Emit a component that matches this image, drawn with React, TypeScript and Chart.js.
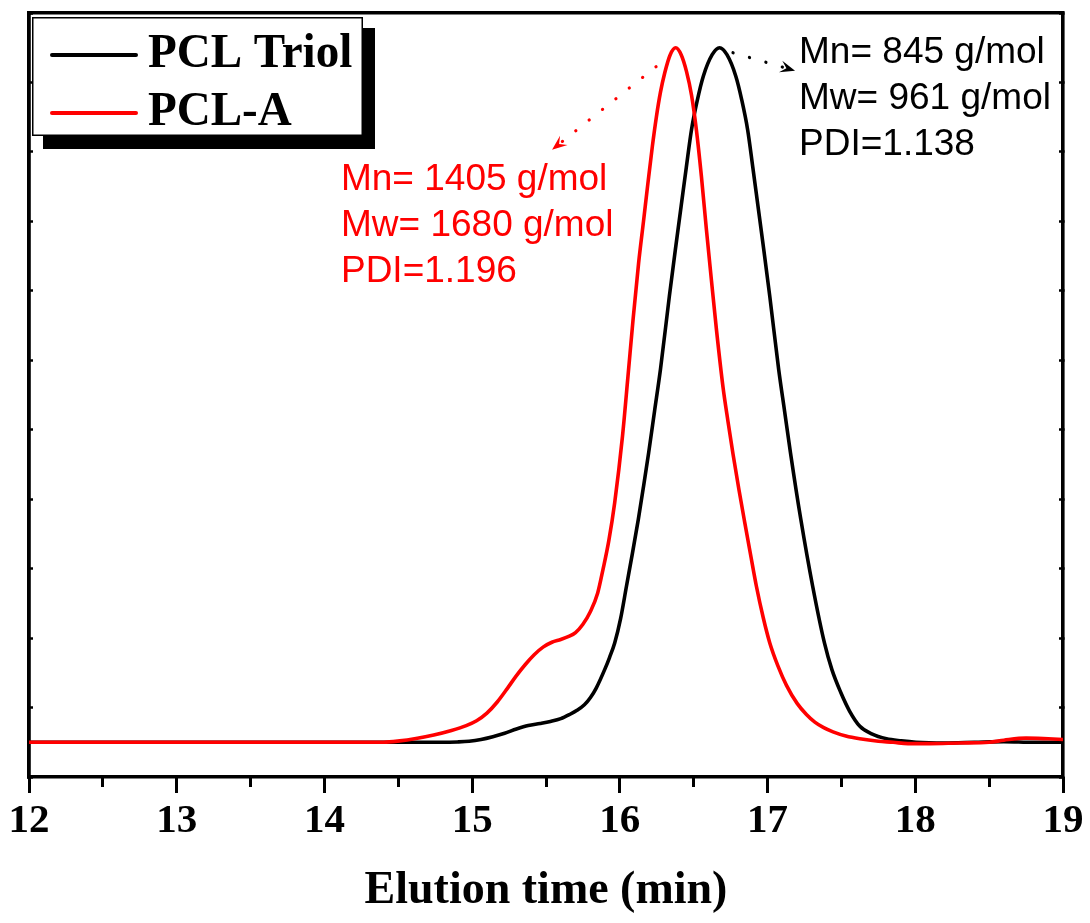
import React, { useEffect, useRef } from "react";
import { Chart, registerables } from "chart.js";

Chart.register(...registerables);

// ---- Data ----
const triolTime = [12.0, 13.0, 14.0, 14.6, 14.8, 14.9, 14.98, 15.06, 15.14, 15.22, 15.3, 15.38, 15.46, 15.53, 15.6, 15.66, 15.71, 15.76, 15.8, 15.84, 15.9, 15.93, 15.965, 16.005, 16.045, 16.085, 16.125, 16.16, 16.195, 16.235, 16.275, 16.335, 16.375, 16.415, 16.45, 16.485, 16.525, 16.565, 16.625, 16.675, 16.725, 16.785, 16.825, 16.865, 16.9, 16.935, 16.975, 17.015, 17.075, 17.115, 17.155, 17.225, 17.305, 17.385, 17.435, 17.495, 17.555, 17.625, 17.705, 17.805, 17.905, 18.005, 18.2, 18.4, 18.6, 18.8, 19.0];
const triolSignal = [0, 0, 0, 0, 0, 0.005, 0.015, 0.04, 0.08, 0.13, 0.19, 0.24, 0.27, 0.3, 0.34, 0.4, 0.46, 0.54, 0.64, 0.78, 1.06, 1.22, 1.43, 1.78, 2.25, 2.72, 3.21, 3.68, 4.17, 4.77, 5.37, 6.42, 7.08, 7.72, 8.28, 8.82, 9.25, 9.59, 9.9, 10.0, 9.9, 9.59, 9.25, 8.82, 8.28, 7.72, 7.08, 6.42, 5.37, 4.77, 4.17, 3.21, 2.25, 1.43, 1.05, 0.72, 0.45, 0.23, 0.12, 0.05, 0.02, 0.0, -0.01, 0.0, 0.01, 0.0, 0.0];

const pclaTime = [12.0, 13.0, 14.0, 14.4, 14.51, 14.62, 14.74, 14.86, 14.96, 15.03, 15.1, 15.17, 15.24, 15.3, 15.36, 15.42, 15.48, 15.54, 15.6, 15.65, 15.7, 15.75, 15.8, 15.85, 15.886, 15.925, 15.965, 16.018, 16.055, 16.09, 16.127, 16.16, 16.19, 16.22, 16.247, 16.275, 16.304, 16.341, 16.378, 16.415, 16.451, 16.485, 16.518, 16.552, 16.586, 16.62, 16.654, 16.698, 16.732, 16.766, 16.806, 16.845, 16.885, 16.924, 16.97, 17.015, 17.07, 17.128, 17.2, 17.263, 17.32, 17.38, 17.443, 17.53, 17.624, 17.75, 17.85, 17.95, 18.1, 18.3, 18.5, 18.6, 18.75, 18.9, 19.0];
const pclaSignal = [0, 0, 0, 0, 0.02, 0.055, 0.105, 0.17, 0.24, 0.31, 0.42, 0.58, 0.78, 0.96, 1.12, 1.26, 1.37, 1.44, 1.48, 1.52, 1.58, 1.7, 1.88, 2.15, 2.49, 2.9, 3.45, 4.41, 5.27, 6.1, 6.9, 7.5, 8.05, 8.58, 9.0, 9.36, 9.64, 9.9, 10.0, 9.9, 9.66, 9.32, 8.82, 8.15, 7.38, 6.65, 5.94, 5.12, 4.62, 4.15, 3.64, 3.17, 2.7, 2.25, 1.8, 1.43, 1.1, 0.82, 0.56, 0.4, 0.29, 0.21, 0.15, 0.09, 0.05, 0.015, 0.0, -0.02, -0.02, -0.01, 0.0, 0.03, 0.06, 0.05, 0.04];

const seriesLabels = ["PCL Triol", "PCL-A"];
const seriesColors = ["#000000", "#ff0000"];

const triolStats = ["Mn= 845 g/mol", "Mw= 961 g/mol", "PDI=1.138"];
const pclaStats = ["Mn= 1405 g/mol", "Mw= 1680 g/mol", "PDI=1.196"];

const xTitle = "Elution time (min)";
const xMin = 12;
const xMax = 19;
const yMin = -0.5;
const yMax = 10.5;

// annotation anchors in data coordinates
const annotationBlocks = [
  { lines: triolStats, color: "#000000", x: 17.213, y: 9.784 },
  { lines: pclaStats, color: "#ff0000", x: 14.112, y: 7.957 },
];
const annotationArrows = [
  { from: [16.766, 9.928], to: [17.186, 9.669], color: "#000000" },
  { from: [16.245, 9.727], to: [15.541, 8.532], color: "#ff0000" },
];

const SERIF = '"Times New Roman", "Liberation Serif", serif';
const SANS = 'Arial, "Liberation Sans", sans-serif';

function drawArrow(ctx: CanvasRenderingContext2D, x1: number, y1: number, x2: number, y2: number, color: string) {
  const ang = Math.atan2(y2 - y1, x2 - x1);
  const c = Math.cos(ang);
  const s = Math.sin(ang);
  const len = 15;
  const hw = 6;
  ctx.save();
  ctx.strokeStyle = color;
  ctx.lineWidth = 3.2;
  ctx.lineCap = "round";
  ctx.setLineDash([0.1, 17]);
  ctx.beginPath();
  ctx.moveTo(x1, y1);
  ctx.lineTo(x2 - c * len * 0.7, y2 - s * len * 0.7);
  ctx.stroke();
  ctx.setLineDash([]);
  ctx.fillStyle = color;
  ctx.beginPath();
  ctx.moveTo(x2, y2);
  ctx.lineTo(x2 - len * c + hw * s, y2 - len * s - hw * c);
  ctx.lineTo(x2 - 0.6 * len * c, y2 - 0.6 * len * s);
  ctx.lineTo(x2 - len * c - hw * s, y2 - len * s + hw * c);
  ctx.closePath();
  ctx.fill();
  ctx.restore();
}

const annotationPlugin = {
  id: "gpcAnnotations",
  afterDatasetsDraw(chart: any) {
    const ctx = chart.ctx as CanvasRenderingContext2D;
    const xs = chart.scales.x;
    const ys = chart.scales.y;
    ctx.save();
    ctx.font = `37px ${SANS}`;
    ctx.textBaseline = "alphabetic";
    ctx.textAlign = "left";
    for (const b of annotationBlocks) {
      const px = xs.getPixelForValue(b.x);
      const py = ys.getPixelForValue(b.y);
      ctx.fillStyle = b.color;
      b.lines.forEach((t, i) => ctx.fillText(t, px, py + i * 46.3));
    }
    for (const a of annotationArrows) {
      drawArrow(
        ctx,
        xs.getPixelForValue(a.from[0]),
        ys.getPixelForValue(a.from[1]),
        xs.getPixelForValue(a.to[0]),
        ys.getPixelForValue(a.to[1]),
        a.color
      );
    }
    ctx.restore();
  },
};

const boxLegendPlugin = {
  id: "boxLegend",
  afterDraw(chart: any) {
    const ctx = chart.ctx as CanvasRenderingContext2D;
    const left = chart.chartArea.left + 3;
    const top = chart.chartArea.top + 4;
    const w = 331;
    const h = 119;
    ctx.save();
    ctx.fillStyle = "#000";
    ctx.fillRect(left + 11, top + 11, w + 1, h + 2);
    ctx.fillStyle = "#fff";
    ctx.fillRect(left, top, w, h);
    ctx.strokeStyle = "#000";
    ctx.lineWidth = 1.5;
    ctx.strokeRect(left + 0.75, top + 0.75, w - 1.5, h - 1.5);
    chart.data.datasets.forEach((ds: any, i: number) => {
      const y = top + 38 + i * 58;
      ctx.strokeStyle = ds.borderColor;
      ctx.lineWidth = 4;
      ctx.lineCap = "round";
      ctx.beginPath();
      ctx.moveTo(left + 20, y);
      ctx.lineTo(left + 104, y);
      ctx.stroke();
      ctx.fillStyle = "#000";
      ctx.font = `bold 48px ${SERIF}`;
      ctx.textBaseline = "alphabetic";
      ctx.textAlign = "left";
      ctx.save();
      ctx.translate(left + 116, y + 12);
      ctx.scale(0.98, 1);
      ctx.fillText(ds.label, 0, 0);
      ctx.restore();
    });
    ctx.restore();
  },
};

export default function App() {
  const canvasRef = useRef<HTMLCanvasElement | null>(null);

  useEffect(() => {
    if (!canvasRef.current) return;
    const chart = new Chart(canvasRef.current, {
      type: "line",
      data: {
        datasets: [
          {
            label: seriesLabels[0],
            data: triolTime.map((t, i) => ({ x: t, y: triolSignal[i] })),
            borderColor: seriesColors[0],
            backgroundColor: seriesColors[0],
            borderWidth: 3.6,
            pointRadius: 0,
            cubicInterpolationMode: "monotone",
            fill: false,
            order: 2,
          },
          {
            label: seriesLabels[1],
            data: pclaTime.map((t, i) => ({ x: t, y: pclaSignal[i] })),
            borderColor: seriesColors[1],
            backgroundColor: seriesColors[1],
            borderWidth: 3.6,
            pointRadius: 0,
            cubicInterpolationMode: "monotone",
            fill: false,
            order: 1,
          },
        ],
      },
      options: {
        animation: false,
        responsive: false,
        devicePixelRatio: 1,
        layout: { padding: { left: 0, right: 27, top: 13, bottom: 0 } },
        plugins: {
          legend: { display: false },
          tooltip: { enabled: false },
          title: { display: false },
        },
        scales: {
          xMinor: {
            type: "linear",
            position: "bottom",
            weight: 0,
            min: xMin,
            max: xMax,
            ticks: { display: false, stepSize: 0.5 },
            grid: { display: true, drawOnChartArea: false, drawTicks: true, tickLength: 10, tickWidth: 3, tickColor: "#000", color: "#000" },
            border: { display: false },
            afterFit: (s: any) => { s.height = 0; },
          },
          x: {
            type: "linear",
            position: "bottom",
            weight: 1,
            min: xMin,
            max: xMax,
            ticks: {
              stepSize: 1,
              color: "#000",
              padding: 4,
              font: { family: SERIF, size: 41, weight: "bold" },
              maxRotation: 0,
            },
            grid: { display: true, drawOnChartArea: false, drawTicks: true, tickLength: 16, tickWidth: 3, tickColor: "#000", color: "#000" },
            border: { display: true, color: "#000", width: 3.6 },
            title: {
              display: true,
              text: xTitle,
              color: "#000",
              font: { family: SERIF, size: 46, weight: "bold" },
              padding: { top: 0, bottom: 4 },
            },
            afterFit: (s: any) => { s.height = 146; },
          },
          xTop: {
            type: "linear",
            position: "top",
            min: xMin,
            max: xMax,
            ticks: { display: false },
            grid: { display: false },
            border: { display: true, color: "#000", width: 3.4 },
            afterFit: (s: any) => { s.height = 0; },
          },
          y: {
            type: "linear",
            position: "left",
            min: yMin,
            max: yMax,
            ticks: { display: false, stepSize: 1, includeBounds: false },
            grid: { display: true, drawOnChartArea: false, drawTicks: true, tickLength: -4, tickWidth: 2.5, tickColor: "#000", color: "#000" },
            border: { display: true, color: "#000", width: 3.8 },
            afterFit: (s: any) => { s.width = 29; },
          },
          yRight: {
            type: "linear",
            position: "right",
            min: yMin,
            max: yMax,
            ticks: { display: false, stepSize: 1, includeBounds: false },
            grid: { display: true, drawOnChartArea: false, drawTicks: true, tickLength: -4, tickWidth: 2.5, tickColor: "#000", color: "#000" },
            border: { display: true, color: "#000", width: 3.6 },
            afterFit: (s: any) => { s.width = 0; },
          },
        },
      } as any,
      plugins: [annotationPlugin, boxLegendPlugin],
    });
    return () => chart.destroy();
  }, []);

  return (
    <div style={{ position: "absolute", left: 0, top: 0, width: 1090, height: 923, background: "#fff" }}>
      <canvas ref={canvasRef} width={1090} height={923} style={{ display: "block" }} />
    </div>
  );
}
